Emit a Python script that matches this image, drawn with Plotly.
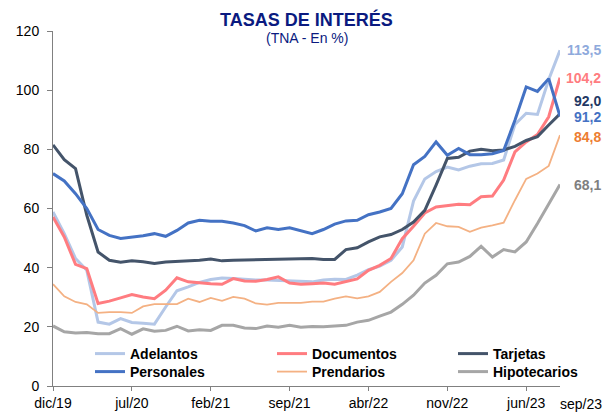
import plotly.graph_objects as go

months = ["dic/19", "ene/20", "feb/20", "mar/20", "abr/20", "may/20", "jun/20", "jul/20",
          "ago/20", "sep/20", "oct/20", "nov/20", "dic/20", "ene/21", "feb/21", "mar/21",
          "abr/21", "may/21", "jun/21", "jul/21", "ago/21", "sep/21", "oct/21", "nov/21",
          "dic/21", "ene/22", "feb/22", "mar/22", "abr/22", "may/22", "jun/22", "jul/22",
          "ago/22", "sep/22", "oct/22", "nov/22", "dic/22", "ene/23", "feb/23", "mar/23",
          "abr/23", "may/23", "jun/23", "jul/23", "ago/23", "sep/23"]

adelantos = [58.8, 51.5, 43.1, 39.1, 21.6, 20.9, 22.8, 21.5, 21.2, 20.9, 26.7, 32.2,
             33.5, 35.0, 36.0, 36.5, 36.3, 36.0, 35.8, 35.8, 35.6, 35.5, 35.3, 35.2,
             35.8, 36.1, 36.0, 37.5, 39.3, 40.5, 42.5, 47.0, 62.5, 70.0, 72.5, 74.0,
             73.0, 74.3, 75.1, 75.2, 76.4, 88.4, 92.2, 91.8, 103.6, 113.5]
documentos = [57.1, 50.4, 41.1, 39.7, 27.9, 28.7, 29.8, 30.9, 30.1, 29.5, 32.4, 36.6,
              35.2, 34.8, 34.6, 34.4, 36.3, 35.5, 35.4, 36.0, 36.9, 34.8, 34.4, 34.6,
              34.8, 34.4, 35.2, 36.2, 39.1, 40.8, 43.1, 49.8, 54.0, 58.5, 60.5, 61.0,
              61.4, 61.3, 64.0, 64.2, 69.6, 79.1, 82.5, 85.0, 91.0, 104.2]
tarjetas = [81.5, 76.5, 73.5, 57.7, 45.3, 42.5, 41.8, 42.3, 42.0, 41.4, 41.9, 42.1,
            42.1, 42.5, 42.9, 42.3, 42.5, 42.6, 42.6, 42.7, 42.9, 42.8, 42.9, 43.1,
            42.8, 42.8, 46.1, 46.7, 48.7, 50.4, 51.2, 52.9, 55.4, 59.4, 67.9, 76.9,
            77.3, 79.4, 80.0, 79.5, 79.8, 81.0, 83.0, 84.3, 88.2, 92.0]
personales = [71.8, 69.3, 65.0, 60.0, 52.9, 50.9, 49.9, 50.3, 50.8, 51.5, 50.6, 52.6,
              55.1, 56.0, 55.7, 55.7, 55.1, 54.2, 52.4, 53.5, 52.9, 53.5, 52.6, 51.5,
              52.9, 54.7, 55.8, 56.0, 57.9, 58.8, 60.0, 65.0, 74.8, 77.6, 82.5, 78.0,
              80.3, 78.2, 78.2, 78.5, 79.6, 89.8, 101.1, 99.6, 103.9, 91.2]
prendarios = [34.4, 30.3, 28.4, 27.6, 24.7, 25.0, 25.0, 24.7, 26.9, 27.7, 27.7, 27.7,
              29.5, 28.4, 29.8, 28.8, 30.1, 29.5, 27.9, 27.5, 28.1, 28.1, 28.1, 28.5,
              28.5, 29.5, 30.3, 29.6, 30.3, 31.8, 35.2, 38.2, 42.5, 51.5, 55.1, 54.0,
              53.8, 52.1, 53.5, 54.3, 55.2, 62.8, 70.0, 71.8, 74.4, 84.8]
hipotecarios = [20.3, 18.3, 17.9, 18.1, 17.7, 17.7, 19.4, 17.5, 19.3, 18.5, 18.8, 20.2,
                18.6, 19.0, 18.8, 20.5, 20.5, 19.6, 19.4, 20.3, 19.9, 20.5, 19.9, 20.1,
                20.0, 20.2, 20.5, 21.6, 22.2, 23.6, 25.0, 27.6, 30.7, 34.8, 37.4, 41.3,
                41.9, 43.8, 47.2, 43.6, 46.1, 45.3, 48.7, 54.9, 61.7, 68.1]

tick_labels = ["dic/19", "jul/20", "feb/21", "sep/21", "abr/22", "nov/22", "jun/23"]
end_label = "sep/23"

series = [
    # name, values, line color, width, legend id, label color, label yshift, legend x(px), legend row
    ("Adelantos", adelantos, "#B4C7E7", 3.0, "legend", "#8FAADC", 0, 90, 0),
    ("Documentos", documentos, "#FF7C80", 3.0, "legend2", "#FF7C80", 0, 272, 0),
    ("Tarjetas", tarjetas, "#44546A", 3.0, "legend3", "#1F3864", 13, 453, 0),
    ("Personales", personales, "#4472C4", 3.0, "legend4", "#4472C4", -1, 90, 1),
    ("Prendarios", prendarios, "#F4B183", 1.8, "legend5", "#ED7D31", -2, 272, 1),
    ("Hipotecarios", hipotecarios, "#A6A6A6", 3.0, "legend6", "#7F7F7F", 0, 453, 1),
]

FONT = "Liberation Sans, Arial, sans-serif"
W, H = 605, 413
ML, MT = 53, 31
PW, PH = 507, 355
MR = W - ML - PW
MB = H - MT - PH

fig = go.Figure()
layout_legends = {}
row_y_px = [354, 372]
for name, vals, col, lw, leg, lcol, ysh, lx, row in series:
    fig.add_trace(go.Scatter(
        x=months, y=vals, mode="lines", name=name, showlegend=True,
        line=dict(color=col, width=lw), legend=leg, hoverinfo="skip",
    ))
    layout_legends[leg] = dict(
        x=(lx - ML) / PW, xanchor="left",
        y=(H - MB - row_y_px[row]) / PH, yanchor="middle",
        bgcolor="rgba(0,0,0,0)", borderwidth=0,
        font=dict(family=FONT, size=14, color="#000000", weight="bold"),
        itemwidth=30, visible=True,
    )
    fig.add_annotation(
        x=months[-1], y=vals[-1], xref="x", yref="y",
        text="<b>" + f"{vals[-1]:.1f}".replace(".", ",") + "</b>",
        showarrow=False, xanchor="right", yanchor="middle",
        xshift=43, yshift=ysh,
        font=dict(family=FONT, size=14, color=lcol),
    )

fig.add_annotation(
    x=0.5, y=1, xref="paper", yref="paper", yshift=12,
    text="<b>TASAS DE INTERÉS</b>", showarrow=False,
    xanchor="center", yanchor="middle",
    font=dict(family=FONT, size=18, color="#0A1A80"),
)
fig.add_annotation(
    x=0.5, y=1, xref="paper", yref="paper", yshift=-7,
    text="(TNA - En %)", showarrow=False,
    xanchor="center", yanchor="middle",
    font=dict(family=FONT, size=14, color="#0A1A80"),
)
fig.add_annotation(
    x=months[-1], y=0, xref="x", yref="y", yshift=-18, xshift=21,
    text=end_label, showarrow=False, xanchor="center", yanchor="middle",
    font=dict(family=FONT, size=14, color="#000000"),
)

fig.update_layout(
    width=W, height=H,
    margin=dict(l=ML, r=MR, t=MT, b=MB, autoexpand=False),
    paper_bgcolor="white", plot_bgcolor="white",
    font=dict(family=FONT, size=14, color="#000000"),
    showlegend=True,
    **layout_legends,
)
fig.update_xaxes(
    type="category", range=[0, len(months) - 1], automargin=False,
    tickmode="array", tickvals=tick_labels, ticktext=tick_labels,
    showline=True, linecolor="#808080", linewidth=1,
    ticks="outside", ticklen=4, tickcolor="#808080",
    showgrid=False, zeroline=False,
    tickfont=dict(family=FONT, size=14, color="#000000"),
)
fig.update_yaxes(
    range=[0, 120], dtick=20, tick0=0, automargin=False,
    showline=True, linecolor="#808080", linewidth=1,
    ticks="outside", ticklen=5, tickcolor="#808080",
    showgrid=False, zeroline=False,
    tickfont=dict(family=FONT, size=14, color="#000000"),
    ticklabelstandoff=5,
)

fig.write_html(
    "out.html",
    config={"displayModeBar": False, "staticPlot": True},
    post_script="document.body.style.margin='0';document.body.style.overflow='hidden';",
)
